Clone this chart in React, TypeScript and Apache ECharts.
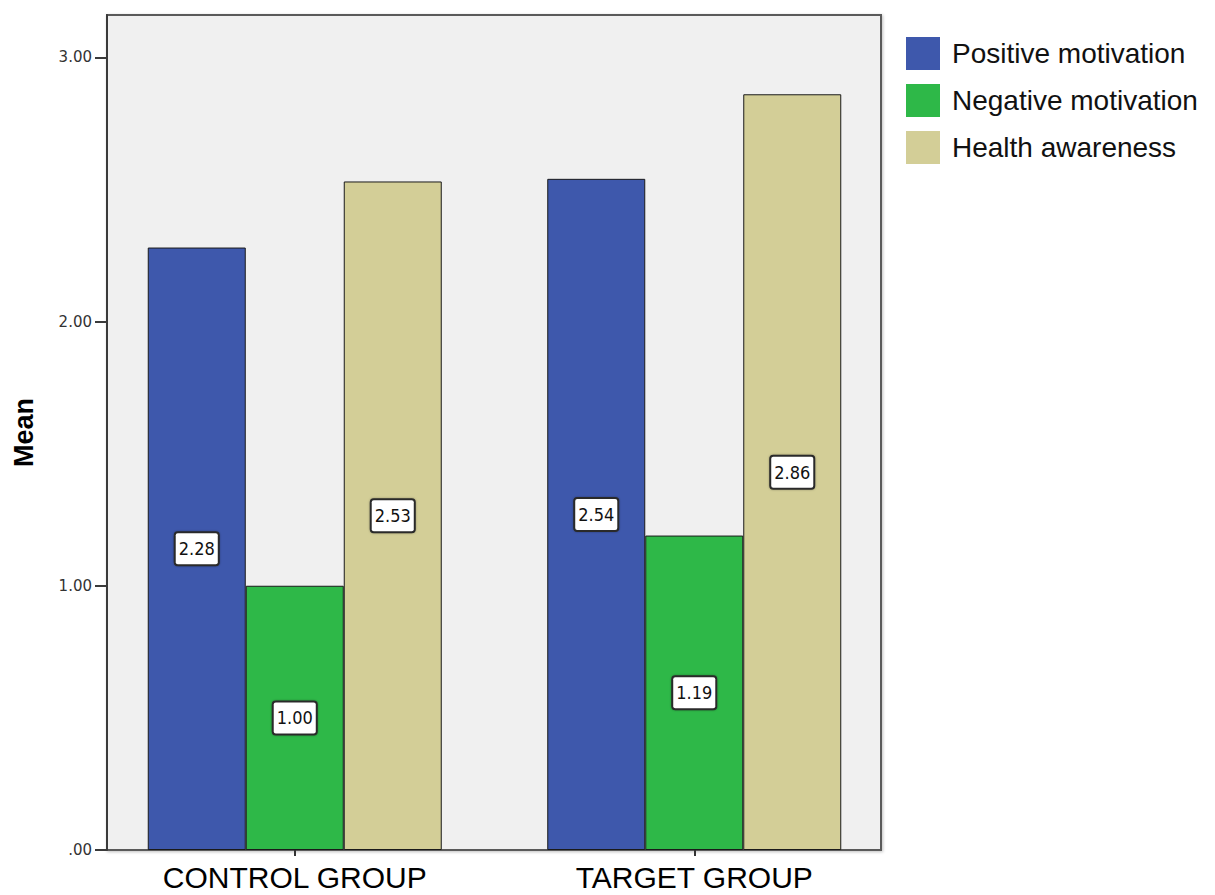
import React, { useEffect, useRef } from "react";
import * as echarts from "echarts";

// Group means per motivation scale
const groups = ["CONTROL GROUP", "TARGET GROUP"];
const positiveMotivation = [2.28, 2.54];
const negativeMotivation = [1.0, 1.19];
const healthAwareness = [2.53, 2.86];
const yTicks = [0, 1, 2, 3];

const seriesDefs = [
  { name: "Positive motivation", data: positiveMotivation, color: "#3E58AC" },
  { name: "Negative motivation", data: negativeMotivation, color: "#2EB848" },
  { name: "Health awareness", data: healthAwareness, color: "#D3CE97" },
];

const fmt = (v: number) => (v === 0 ? ".00" : v.toFixed(2));

export default function App() {
  const ref = useRef<HTMLDivElement>(null);

  useEffect(() => {
    if (!ref.current) return;
    const chart = echarts.init(ref.current, null, { renderer: "svg" });

    const plotLeft = 107;
    const plotRight = 881;
    const plotTop = 15;
    const plotBottom = 850;

    chart.setOption({
      animation: false,
      backgroundColor: "#ffffff",
      grid: {
        left: 95,
        width: 799,
        top: plotTop,
        height: plotBottom - plotTop,
        containLabel: false,
      },
      graphic: [
        {
          type: "rect",
          z: -10,
          silent: true,
          shape: {
            x: plotLeft,
            y: plotTop,
            width: plotRight - plotLeft,
            height: plotBottom - plotTop,
          },
          style: {
            fill: "#F0F0F0",
            stroke: "#5a5a5a",
            lineWidth: 2,
            shadowColor: "rgba(0,0,0,0.25)",
            shadowBlur: 3,
            shadowOffsetX: 1,
            shadowOffsetY: 1,
          },
        },
      ],
      legend: {
        left: 901,
        top: 32,
        orient: "vertical",
        icon: "rect",
        itemWidth: 34,
        itemHeight: 33,
        itemGap: 14,
        itemStyle: { borderWidth: 0 },
        textStyle: {
          fontFamily: "Liberation Sans, Arial, sans-serif",
          fontSize: 28,
          lineHeight: 33,
          color: "#111",
          padding: [0, 0, 0, 7],
        },
        data: seriesDefs.map((s) => s.name),
      },
      xAxis: {
        type: "category",
        data: groups,
        axisLine: { show: false },
        axisTick: {
          show: true,
          alignWithLabel: true,
          length: 6,
          lineStyle: { color: "#333", width: 2 },
        },
        axisLabel: {
          fontFamily: "Liberation Sans, Arial, sans-serif",
          fontSize: 30,
          lineHeight: 30,
          color: "#000",
          margin: 12,
        },
      },
      yAxis: {
        type: "value",
        min: 0,
        max: 3.16,
        interval: 1,
        offset: -12,
        name: "Mean",
        nameLocation: "middle",
        nameGap: 70,
        nameTextStyle: {
          fontFamily: "Liberation Sans, Arial, sans-serif",
          fontSize: 27,
          fontWeight: "bold",
          color: "#000",
        },
        splitLine: { show: false },
        axisLine: { show: true, lineStyle: { color: "#3a3a3a", width: 2 } },
        axisTick: {
          show: true,
          length: 12,
          customValues: yTicks,
          lineStyle: { color: "#3a3a3a", width: 2 },
        },
        axisLabel: {
          customValues: yTicks,
          formatter: (v: number) => fmt(v),
          fontFamily: "DejaVu Sans, sans-serif",
          fontSize: 15,
          color: "#333",
          margin: 15,
        },
      },
      series: seriesDefs.map((s) => ({
        type: "bar",
        name: s.name,
        data: s.data,
        barWidth: 98,
        barGap: "0%",
        itemStyle: {
          color: s.color,
          borderColor: "#1a1a1a",
          borderWidth: 1,
        },
        label: {
          show: true,
          position: "inside",
          formatter: (p: any) => fmt(p.value),
          fontFamily:
            "Liberation Sans Narrow, DejaVu Sans Condensed, Liberation Sans, sans-serif",
          fontSize: 18,
          color: "#111",
          backgroundColor: "#ffffff",
          borderColor: "#2a2a2a",
          borderWidth: 2,
          borderRadius: 2,
          padding: [7, 3, 6, 3],
          shadowColor: "rgba(0,0,0,0.3)",
          shadowBlur: 2,
        },
      })),
    });

    return () => chart.dispose();
  }, []);

  return (
    <div
      ref={ref}
      style={{
        position: "fixed",
        left: 0,
        top: 0,
        width: 1215,
        height: 895,
        background: "#fff",
      }}
    />
  );
}
